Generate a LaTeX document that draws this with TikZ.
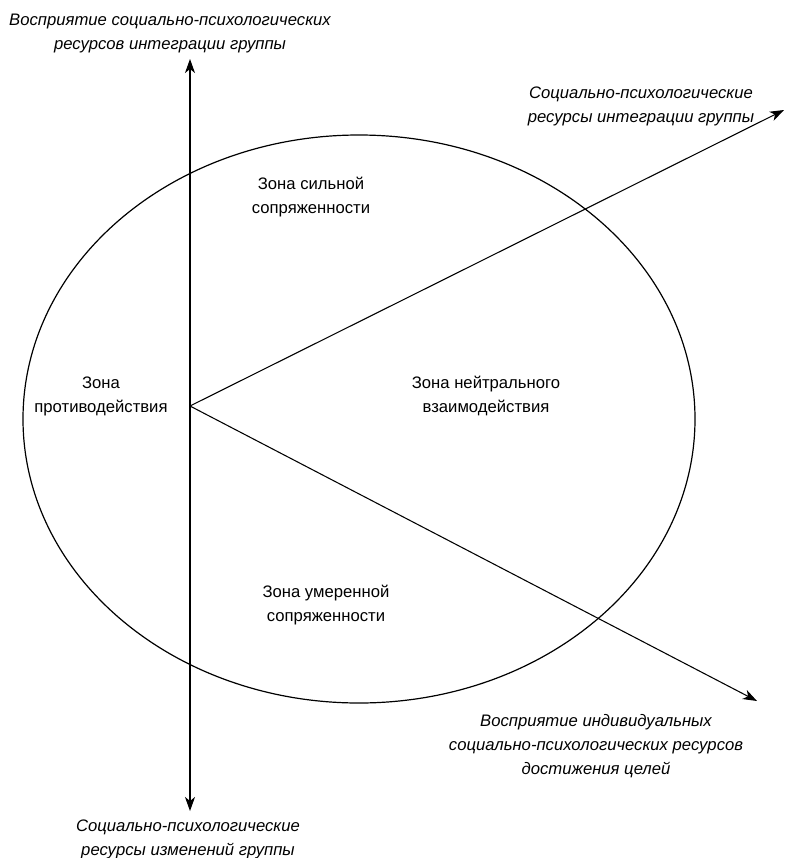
\documentclass[tikz,border=0pt]{standalone}
\usepackage{fontspec}
\setmainfont{Liberation Sans}
\usetikzlibrary{arrows.meta}
\begin{document}
\begin{tikzpicture}[x=0.75pt,y=-0.75pt,
  lbl/.style={align=center,font=\fontsize{12.5}{18}\selectfont,inner sep=0pt},
  axlbl/.style={lbl,font=\fontsize{12.5}{18}\selectfont\itshape},
  axis/.style={line width=0.8pt,-{Stealth[length=10.5pt,width=7.5pt,inset=3pt]}}]
\useasboundingbox (0,0) rectangle (787,858);
\draw[line width=0.9pt] (359,419) ellipse [x radius=336, y radius=284];
\coordinate (o) at (190,406);
\coordinate (top) at (190,59);
\coordinate (bot) at (190,811);
\coordinate (ur) at (784,110);
\coordinate (lr) at (757,701);
\draw[axis] (o) -- (top);
\draw[axis] (o) -- (bot);
\draw[axis] (o) -- (ur);
\draw[axis] (o) -- (lr);
\node[axlbl] (t1) at (170,33) {Восприятие социально-психологических\\ресурсов интеграции группы};
\node[axlbl] (t2) at (641,106) {Социально-психологические\\ресурсы интеграции группы};
\node[axlbl] (t3) at (596,746) {Восприятие индивидуальных\\социально-психологических ресурсов\\достижения целей};
\node[axlbl] (t4) at (188,839) {Социально-психологические\\ресурсы изменений группы};
\node[lbl] (z1) at (311,197) {Зона сильной\\сопряженности};
\node[lbl] (z2) at (101,396) {Зона\\противодействия};
\node[lbl] (z3) at (486,396) {Зона нейтрального\\взаимодействия};
\node[lbl] (z4) at (326,605) {Зона умеренной\\сопряженности};
\end{tikzpicture}
\end{document}
